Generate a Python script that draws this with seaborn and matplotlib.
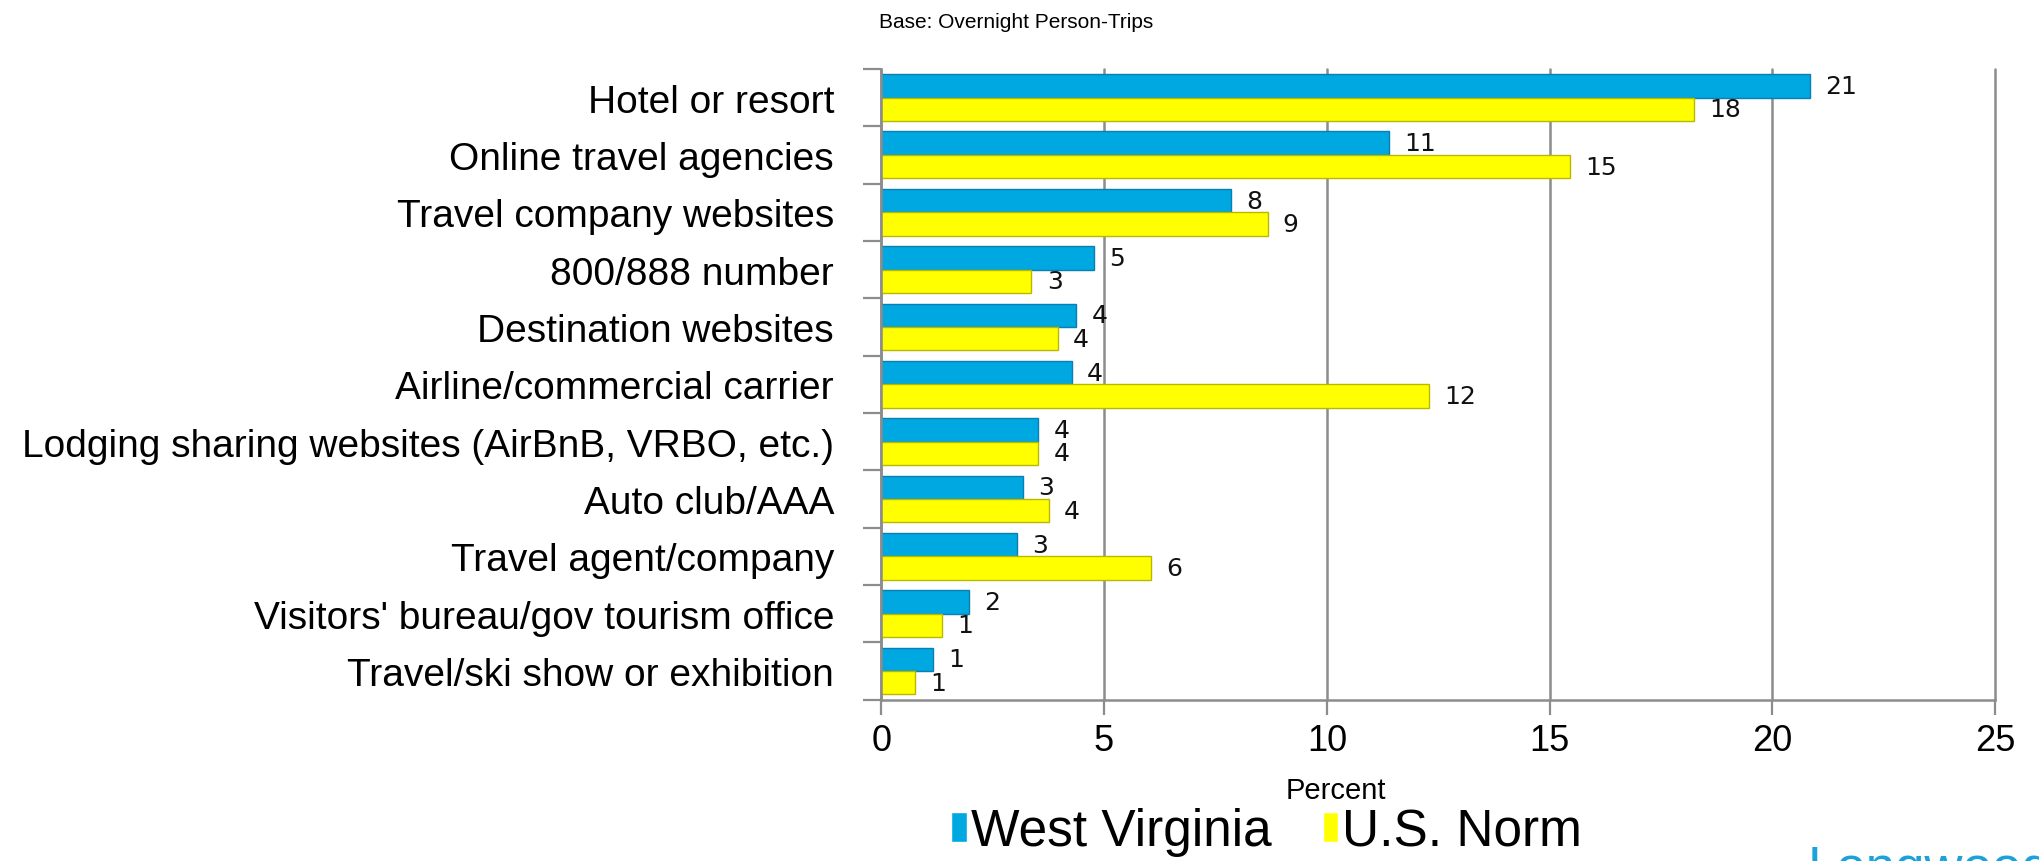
import matplotlib
matplotlib.use("Agg")
import matplotlib.pyplot as plt
import seaborn as sns
import pandas as pd
import numpy as np

categories = [
    "Hotel or resort",
    "Online travel agencies",
    "Travel company websites",
    "800/888 number",
    "Destination websites",
    "Airline/commercial carrier",
    "Lodging sharing websites (AirBnB, VRBO, etc.)",
    "Auto club/AAA",
    "Travel agent/company",
    "Visitors' bureau/gov tourism office",
    "Travel/ski show or exhibition",
]
west_virginia = [20.85, 11.4, 7.85, 4.77, 4.37, 4.28, 3.52, 3.17, 3.05, 1.96, 1.16]
us_norm = [18.25, 15.45, 8.67, 3.37, 3.96, 12.3, 3.52, 3.76, 6.06, 1.36, 0.76]
series_names = ["West Virginia", "U.S. Norm"]
x_ticks = [0, 5, 10, 15, 20, 25]

df = pd.DataFrame({
    "category": categories * 2,
    "value": west_virginia + us_norm,
    "series": [series_names[0]] * len(categories) + [series_names[1]] * len(categories),
})

sns.set_theme(style="white")
plt.rcParams["font.family"] = ["Liberation Sans", "DejaVu Sans"]
plt.rcParams["text.color"] = "black"
plt.rcParams["xtick.color"] = "black"
plt.rcParams["ytick.color"] = "black"

fig = plt.figure(figsize=(20.4, 8.62), dpi=100)
ax = fig.add_axes([0.432, 0.187, 0.546, 0.732])

palette = {"West Virginia": "#00A8E2", "U.S. Norm": "#FFFF00"}
sns.barplot(data=df, y="category", x="value", hue="series", order=categories,
            hue_order=series_names, palette=palette, orient="h", width=0.815,
            saturation=1, ax=ax, legend=True)

edge_cols = ["#0a7fb0", "#b8b800"]
for cont, ec in zip(ax.containers, edge_cols):
    for p in cont:
        p.set_edgecolor(ec)
        p.set_linewidth(1.0)
    vals = [p.get_width() for p in cont]
    ax.bar_label(cont, labels=[f"{v:.0f}" for v in vals], padding=11,
                 fontsize=18, family=["DejaVu Sans"], color="#111111")

ax.set_xlim(0, 25)
ax.set_ylim(len(categories) - 0.5, -0.5)
ax.set_xticks(x_ticks)
ax.set_xticklabels([str(t) for t in x_ticks], fontsize=26)
ax.xaxis.grid(True, color="#8c8c8c", linewidth=1.8)
for gl in ax.get_xgridlines():
    gl.set_clip_on(False)
ax.set_axisbelow(True)

ax.set_yticks(range(len(categories)))
ax.set_yticklabels(categories, fontsize=28)
ax.set_yticks(np.arange(-0.5, len(categories), 1.0), minor=True)
ax.tick_params(axis="y", which="major", length=0, pad=34)
ax.tick_params(axis="y", which="minor", length=13, width=1.6, color="#8c8c8c", left=True)
ax.tick_params(axis="x", which="major", length=11, width=1.6, color="#8c8c8c", bottom=True, pad=6)

for s in ["top", "right"]:
    ax.spines[s].set_visible(False)
for s in ["left", "bottom"]:
    ax.spines[s].set_color("#8c8c8c")
    ax.spines[s].set_linewidth(1.8)

ax.set_ylabel("")
ax.set_xlabel("")

fig.text(0.498, 0.974, "Base: Overnight Person-Trips", ha="center", va="center", fontsize=15)
fig.text(0.655, 0.082, "Percent", ha="center", va="center", fontsize=21)

handles, labels = ax.get_legend_handles_labels()
ax.get_legend().remove()
fig.legend(handles, labels, loc="center", bbox_to_anchor=(0.621, 0.034), ncol=2,
           frameon=False, prop={"size": 37},
           handlelength=0.3, handleheight=0.55, handletextpad=0.08, columnspacing=1.0)

fig.text(0.886, -0.026, "Longwoods", ha="left", va="baseline", fontsize=38, color="#1BA1DB")

fig.savefig("out.png", dpi=100)
